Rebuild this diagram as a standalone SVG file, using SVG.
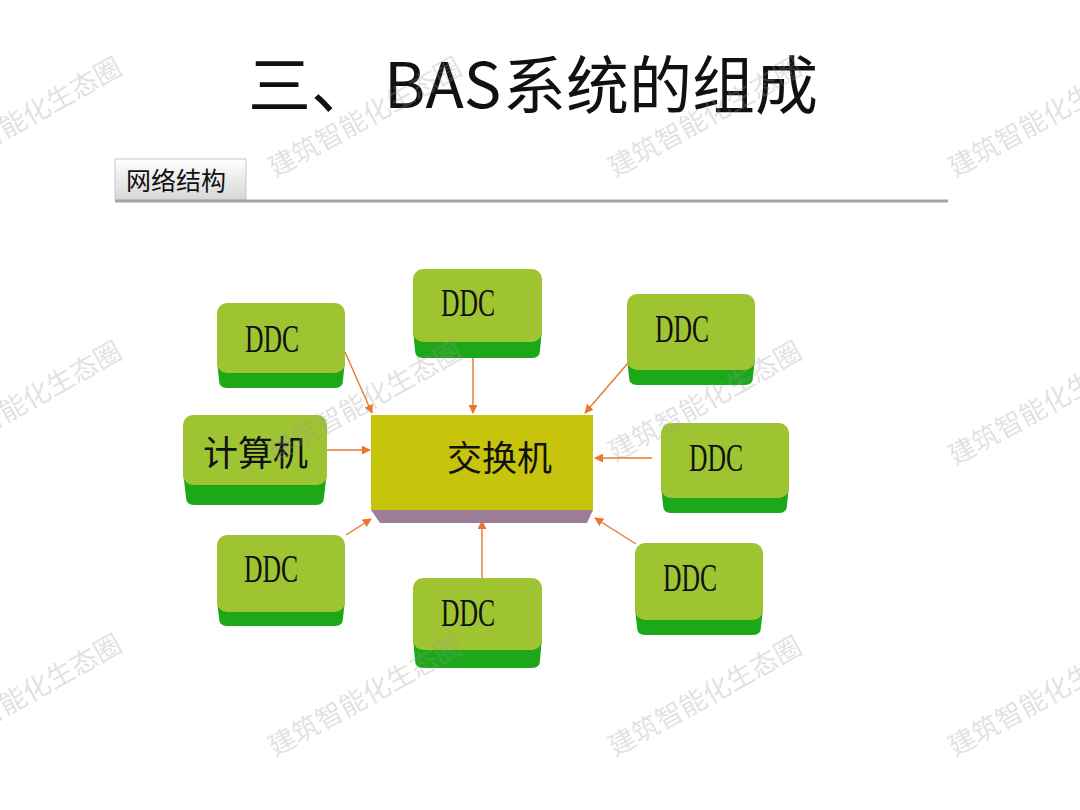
<svg xmlns="http://www.w3.org/2000/svg" width="1080" height="810" viewBox="0 0 1080 810">
<defs>
<style>
.face{fill:#9FC431;}
.band{fill:#1DA81A;}
.ddc{font-family:"Liberation Serif","DejaVu Serif",serif;font-size:39px;fill:#111;}
.cjk{font-family:"Noto Sans CJK SC","Noto Sans",sans-serif;fill:#111;}
.conn{stroke:#E8772E;stroke-width:1.4;fill:none;marker-end:url(#arr);}
.wm{font-family:"Noto Sans CJK SC",sans-serif;font-size:27px;fill:#999;fill-opacity:0.3;}
</style>
<marker id="arr" viewBox="0 0 10 10" refX="9" refY="5" markerWidth="9" markerHeight="9" markerUnits="userSpaceOnUse" orient="auto">
<path d="M0,0 L10,5 L0,10 z" fill="#E8772E"/>
</marker>
<linearGradient id="tab" x1="0" y1="0" x2="0" y2="1">
<stop offset="0" stop-color="#ffffff"/>
<stop offset="1" stop-color="#d6d6d6"/>
</linearGradient>
</defs>
<rect width="1080" height="810" fill="#ffffff"/>

<g id="title">
<text y="108" class="cjk" font-size="63"><tspan x="248">三、</tspan><tspan x="384">BAS</tspan><tspan x="503">系统的组成</tspan></text>
</g>
<g id="section-tab">
<rect x="115" y="159" width="131" height="41" fill="url(#tab)" stroke="#c8c8c8" stroke-width="1"/>
<line x1="115" y1="201" x2="948" y2="201" stroke="#A3A3A3" stroke-width="3"/>
<text x="126" y="190" class="cjk" font-size="25">网络结构</text>
</g>

<g id="connectors">
<line class="conn" x1="345" y1="352" x2="372" y2="413"/>
<line class="conn" x1="473" y1="358" x2="473" y2="413"/>
<line class="conn" x1="628" y1="363" x2="585" y2="413"/>
<line class="conn" x1="327" y1="450" x2="370" y2="450"/>
<line class="conn" x1="652" y1="458" x2="595" y2="458"/>
<line class="conn" x1="346" y1="535" x2="371" y2="519"/>
<line class="conn" x1="482" y1="578" x2="482" y2="521"/>
<line class="conn" x1="636" y1="544" x2="595" y2="518"/>
</g>

<g id="switch">
<path d="M371,505 L593,505 L593,510 L587,523 L380,523 L371,510 z" fill="#9C7E98"/>
<rect x="371" y="415" width="222" height="95" fill="#C7C50B"/>
<text x="447" y="471" class="cjk" font-size="35">交换机</text>
</g>

<g id="ddc-top-left">
<path d="M217,360 L345,360 L343,380 Q343,388 335,388 L227,388 Q219,388 219,380 z" class="band"/>
<rect x="217" y="303" width="128" height="70" rx="10" class="face"/>
<text x="245" y="352" class="ddc" textLength="54" lengthAdjust="spacingAndGlyphs">DDC</text>
</g>

<g id="ddc-top-center">
<path d="M413,330 L542,330 L540,350 Q540,358 532,358 L423,358 Q415,358 415,350 z" class="band"/>
<rect x="413" y="269" width="129" height="73" rx="10" class="face"/>
<text x="441" y="316" class="ddc" textLength="54" lengthAdjust="spacingAndGlyphs">DDC</text>
</g>

<g id="ddc-top-right">
<path d="M627,358 L755,358 L753,377 Q753,385 745,385 L637,385 Q629,385 629,377 z" class="band"/>
<rect x="627" y="294" width="128" height="76" rx="10" class="face"/>
<text x="655" y="342" class="ddc" textLength="54" lengthAdjust="spacingAndGlyphs">DDC</text>
</g>

<g id="computer">
<path d="M183,472 L327,472 L324,497 Q324,505 316,505 L194,505 Q186,505 186,497 z" class="band"/>
<rect x="183" y="415" width="144" height="70" rx="10" class="face"/>
<text x="203" y="466" class="cjk" font-size="35">计算机</text>
</g>

<g id="ddc-right">
<path d="M661,485 L789,485 L787,505 Q787,513 779,513 L671,513 Q663,513 663,505 z" class="band"/>
<rect x="661" y="423" width="128" height="75" rx="10" class="face"/>
<text x="689" y="471" class="ddc" textLength="54" lengthAdjust="spacingAndGlyphs">DDC</text>
</g>

<g id="ddc-bottom-left">
<path d="M217,600 L345,600 L343,618 Q343,626 335,626 L227,626 Q219,626 219,618 z" class="band"/>
<rect x="217" y="535" width="128" height="77" rx="10" class="face"/>
<text x="244" y="582" class="ddc" textLength="54" lengthAdjust="spacingAndGlyphs">DDC</text>
</g>

<g id="ddc-bottom-center">
<path d="M413,638 L542,638 L540,660 Q540,668 532,668 L423,668 Q415,668 415,660 z" class="band"/>
<rect x="413" y="578" width="129" height="72" rx="10" class="face"/>
<text x="441" y="626" class="ddc" textLength="54" lengthAdjust="spacingAndGlyphs">DDC</text>
</g>

<g id="ddc-bottom-right">
<path d="M635,608 L763,608 L761,627 Q761,635 753,635 L645,635 Q637,635 637,627 z" class="band"/>
<rect x="635" y="543" width="128" height="77" rx="10" class="face"/>
<text x="663" y="591" class="ddc" textLength="54" lengthAdjust="spacingAndGlyphs">DDC</text>
</g>

<g id="watermarks">
<text class="wm" transform="translate(-65,178) rotate(-29)">建筑智能化生态圈</text>
<text class="wm" transform="translate(275,178) rotate(-29)">建筑智能化生态圈</text>
<text class="wm" transform="translate(615,178) rotate(-29)">建筑智能化生态圈</text>
<text class="wm" transform="translate(955,178) rotate(-29)">建筑智能化生态圈</text>
<text class="wm" transform="translate(-65,462) rotate(-29)">建筑智能化生态圈</text>
<text class="wm" transform="translate(275,462) rotate(-29)">建筑智能化生态圈</text>
<text class="wm" transform="translate(615,462) rotate(-29)">建筑智能化生态圈</text>
<text class="wm" transform="translate(955,466) rotate(-29)">建筑智能化生态圈</text>
<text class="wm" transform="translate(-65,755) rotate(-29)">建筑智能化生态圈</text>
<text class="wm" transform="translate(275,757) rotate(-29)">建筑智能化生态圈</text>
<text class="wm" transform="translate(615,757) rotate(-29)">建筑智能化生态圈</text>
<text class="wm" transform="translate(955,757) rotate(-29)">建筑智能化生态圈</text>
</g>
</svg>
